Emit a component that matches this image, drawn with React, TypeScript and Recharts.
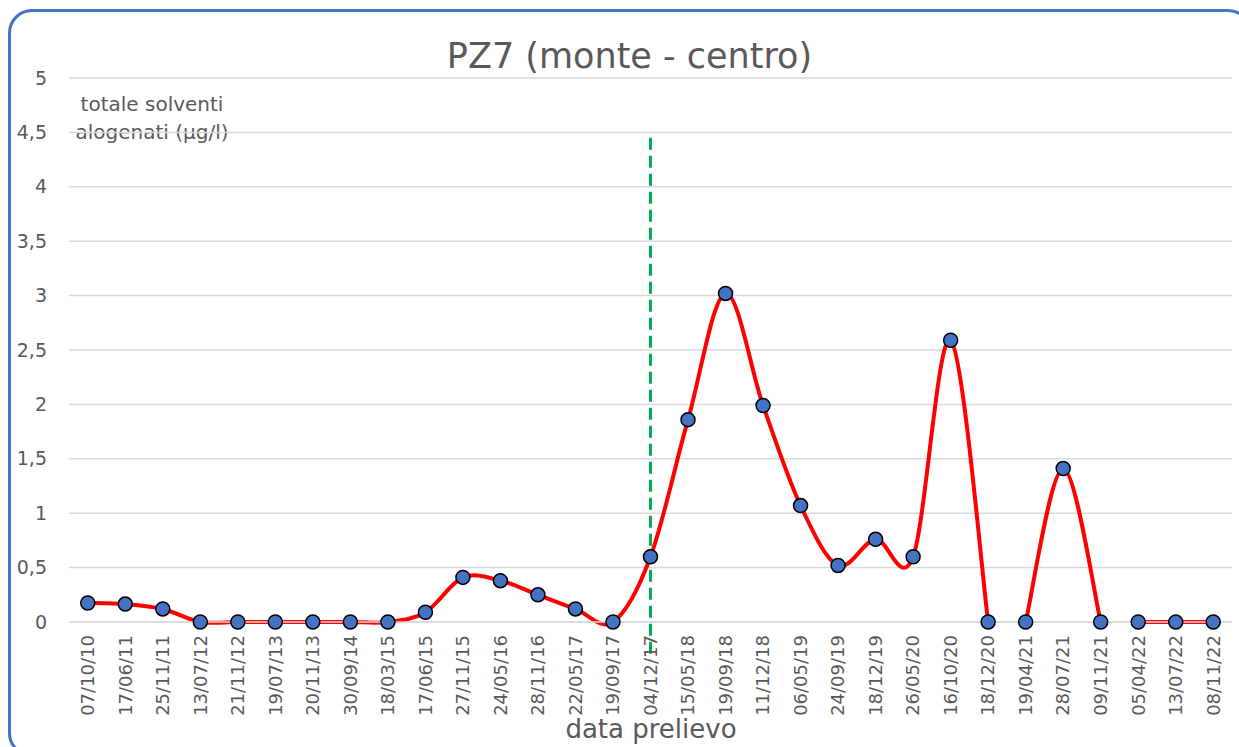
import { LineChart, Line, XAxis, YAxis, CartesianGrid, ReferenceLine } from 'recharts';

const dates = [
  '07/10/10', '17/06/11', '25/11/11', '13/07/12', '21/11/12', '19/07/13', '20/11/13', '30/09/14',
  '18/03/15', '17/06/15', '27/11/15', '24/05/16', '28/11/16', '22/05/17', '19/09/17', '04/12/17',
  '15/05/18', '19/09/18', '11/12/18', '06/05/19', '24/09/19', '18/12/19', '26/05/20', '16/10/20',
  '18/12/20', '19/04/21', '28/07/21', '09/11/21', '05/04/22', '13/07/22', '08/11/22',
];

const values = [
  0.175, 0.165, 0.12, 0, 0, 0, 0, 0,
  0, 0.09, 0.41, 0.38, 0.25, 0.12, 0, 0.6,
  1.86, 3.02, 1.99, 1.07, 0.52, 0.76, 0.6, 2.59,
  0, 0, 1.41, 0, 0, 0, 0,
];

// the line is broken between 18/12/20-19/04/21 and 09/11/21-05/04/22
const segment = [
  0, 0, 0, 0, 0, 0, 0, 0,
  0, 0, 0, 0, 0, 0, 0, 0,
  0, 0, 0, 0, 0, 0, 0, 0,
  0, 1, 1, 1, 2, 2, 2,
];

const yTicks = [0, 0.5, 1, 1.5, 2, 2.5, 3, 3.5, 4, 4.5, 5];
const markerDate = '04/12/17';

const data = dates.map((d, i) => ({
  date: d,
  s0: segment[i] === 0 ? values[i] : null,
  s1: segment[i] === 1 ? values[i] : null,
  s2: segment[i] === 2 ? values[i] : null,
}));

// Excel-like smoothed line (bezier with control points at 1/6 of neighbour delta)
const excelSmooth = (context: any) => {
  let pts: number[][] = [];
  return {
    areaStart() {},
    areaEnd() {},
    lineStart() {
      pts = [];
    },
    point(x: number, y: number) {
      pts.push([+x, +y]);
    },
    lineEnd() {
      if (!pts.length) return;
      context.moveTo(pts[0][0], pts[0][1]);
      for (let i = 0; i < pts.length - 1; i++) {
        const p0 = pts[i - 1] || pts[i];
        const p1 = pts[i];
        const p2 = pts[i + 1];
        const p3 = pts[i + 2] || p2;
        context.bezierCurveTo(
          p1[0] + (p2[0] - p0[0]) / 6,
          p1[1] + (p2[1] - p0[1]) / 6,
          p2[0] - (p3[0] - p1[0]) / 6,
          p2[1] - (p3[1] - p1[1]) / 6,
          p2[0],
          p2[1]
        );
      }
    },
  };
};

const FONT = '"DejaVu Sans", sans-serif';
const TEXT = '#595959';

const XTick = ({ x, y, payload }: any) => (
  <text
    x={x}
    y={y}
    transform={`rotate(-90 ${x} ${y})`}
    textAnchor="end"
    dy="0.35em"
    fill={TEXT}
    fontSize={18}
    fontFamily={FONT}
  >
    {payload.value}
  </text>
);

const YTick = ({ x, y, payload }: any) => (
  <text x={x} y={y} textAnchor="end" dy="0.35em" fill={TEXT} fontSize={19} fontFamily={FONT}>
    {String(payload.value).replace('.', ',')}
  </text>
);

const dotStyle = { r: 7, fill: '#4472C4', stroke: '#000000', strokeWidth: 1.5 };

export default function App() {
  return (
    <div style={{ position: 'fixed', left: 0, top: 0, width: 1239, height: 747, overflow: 'hidden', background: '#fff' }}>
      <div
        style={{
          position: 'absolute',
          left: 8,
          top: 9,
          width: 1244,
          height: 748,
          border: '3px solid #4472C4',
          borderRadius: 24,
          boxSizing: 'border-box',
        }}
      />
      <div
        style={{
          position: 'absolute',
          left: 0,
          top: 36,
          width: 1259,
          textAlign: 'center',
          fontFamily: FONT,
          fontSize: 35,
          color: TEXT,
        }}
      >
        PZ7 (monte - centro)
      </div>
      <div
        style={{
          position: 'absolute',
          left: 52,
          top: 90,
          width: 200,
          textAlign: 'center',
          fontFamily: FONT,
          fontSize: 20,
          lineHeight: '28px',
          color: TEXT,
        }}
      >
        totale solventi
        <br />
        alogenati (μg/l)
      </div>
      <div
        style={{
          position: 'absolute',
          left: 451,
          top: 714,
          width: 400,
          textAlign: 'center',
          fontFamily: FONT,
          fontSize: 26,
          color: TEXT,
        }}
      >
        data prelievo
      </div>
      <div style={{ position: 'absolute', left: 0, top: 0 }}>
        <LineChart width={1239} height={747} data={data} margin={{ top: 78, right: 7, left: 0, bottom: 25 }}>
          <CartesianGrid vertical={false} stroke="#D9D9D9" strokeWidth={1.5} />
          <XAxis
            dataKey="date"
            interval={0}
            height={100}
            padding={{ left: 18.75, right: 18.75 }}
            axisLine={{ stroke: '#D9D9D9', strokeWidth: 1.5 }}
            tickLine={false}
            tickSize={4}
            tickMargin={9}
            tick={<XTick />}
          />
          <YAxis
            width={69}
            domain={[0, 5]}
            ticks={yTicks}
            interval={0}
            axisLine={false}
            tickLine={false}
            tickSize={6}
            tickMargin={16}
            tick={<YTick />}
          />
          <ReferenceLine
            segment={[
              { x: markerDate, y: 4.45 },
              { x: markerDate, y: -0.35 },
            ]}
            ifOverflow="visible"
            stroke="#00B050"
            strokeWidth={3}
            strokeDasharray="12 6"
          />
          {['s0', 's1', 's2'].map((k) => (
            <Line
              key={k}
              dataKey={k}
              type={excelSmooth as any}
              stroke="#FF0000"
              strokeWidth={4}
              dot={dotStyle}
              activeDot={false}
              connectNulls={false}
              isAnimationActive={false}
            />
          ))}
        </LineChart>
      </div>
    </div>
  );
}
